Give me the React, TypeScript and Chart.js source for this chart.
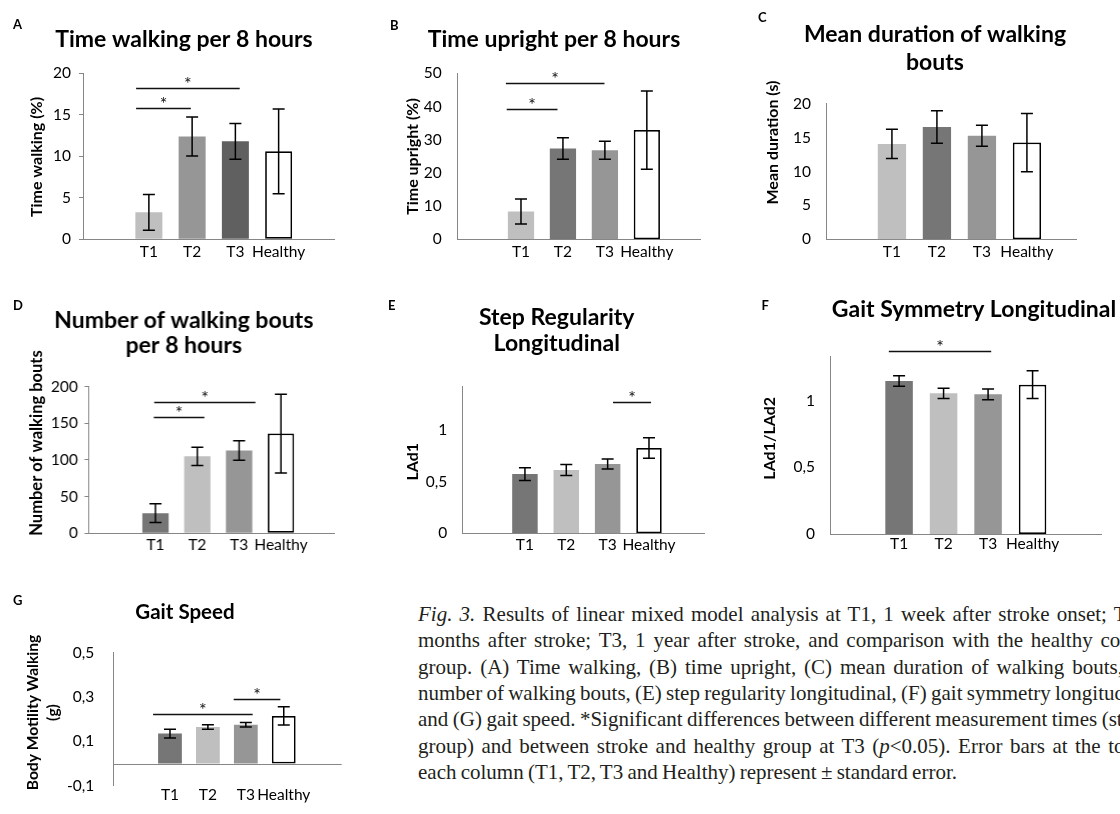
import React, { useEffect, useRef } from 'react';
import { Chart, registerables } from 'chart.js';

Chart.register(...registerables);

// ---------- data ----------
const categories = ['T1', 'T2', 'T3', 'Healthy'];

// A – time walking per 8 hours (%)
const walkMean = [3.25, 12.4, 11.8, 10.6];
const walkSE = [2.15, 2.35, 2.15, 5.1];
const walkTicks = [0, 5, 10, 15, 20];
const walkSig = [
  { from: 0.705, to: 3.1, y: 18.25 },
  { from: 0.705, to: 1.97, y: 15.85 },
];

// B – time upright per 8 hours (%)
const uprightMean = [8.38, 27.35, 26.8, 32.9];
const uprightSE = [3.77, 3.26, 2.7, 11.8];
const uprightTicks = [0, 10, 20, 30, 40, 50];
const uprightSig = [
  { from: 0.64, to: 2.99, y: 47 },
  { from: 0.66, to: 1.87, y: 39.3 },
];

// C – mean duration of walking bouts (s)
const durationMean = [14.1, 16.6, 15.3, 14.3];
const durationSE = [2.15, 2.4, 1.55, 4.3];
const durationTicks = [0, 5, 10, 15, 20];
const durationSig: { from: number; to: number; y: number }[] = [];

// D – number of walking bouts per 8 hours
const boutsMean = [27.5, 105, 113, 136];
const boutsSE = [12.7, 12.5, 13.4, 53.6];
const boutsTicks = [0, 50, 100, 150, 200];
const boutsSig = [
  { from: 0.97, to: 3.39, y: 179.5 },
  { from: 0.96, to: 2.17, y: 158.2 },
];

// E – step regularity longitudinal (LAd1)
const regMean = [0.574, 0.613, 0.671, 0.826];
const regSE = [0.062, 0.053, 0.048, 0.1];
const regTicks = [0, 0.5, 1];
const regSig = [{ from: 3.13, to: 4.05, y: 1.271 }];

// F – gait symmetry longitudinal (LAd1/LAd2)
const symMean = [1.1475, 1.055, 1.0475, 1.12];
const symSE = [0.04, 0.039, 0.04, 0.104];
const symTicks = [0, 0.5, 1];
const symSig = [{ from: 0.77, to: 3.07, y: 1.3725 }];

// G – gait speed (body motility walking, g)
const speedMean = [0.135, 0.165, 0.175, 0.215];
const speedSE = [0.02, 0.01, 0.01, 0.041];
const speedTicks = [-0.1, 0.1, 0.3, 0.5];
const speedSig = [
  { from: 0.555, to: 3.18, y: 0.224 },
  { from: 2.68, to: 3.91, y: 0.293 },
];

// ---------- styles / layout ----------
const FONT = "Lato, 'Open Sans', 'DejaVu Sans', sans-serif";
const AXIS = '#868686';
const LIGHT = '#BFBFBF';
const MID = '#969696';
const DARK = '#767676';
const DARKER = '#606060';
const WHITE = '#FFFFFF';
const TICK_SIZE = 15.5;
const STAR_SIZE = 18;

type Sig = { from: number; to: number; y: number };
type PanelSpec = {
  letter: string;
  letterPos: [number, number];
  title: string[];
  titleSize: number;
  titleLH: number;
  titleX: number;
  titleY: number;
  yTitle: string[];
  yTitleSize: number;
  yTitleX: number;
  yTitleY: number;
  yTitleLH: number;
  cx: number;
  cy: number;
  ch: number;
  L: number;
  T: number;
  R: number;
  B: number;
  c1: number;
  c4: number;
  barW: number;
  yMin: number;
  yMax: number;
  yTicks: number[];
  yTickLen: number;
  yTickPad: number;
  xLabelPad: number;
  zeroAxis?: boolean;
  means: number[];
  errs: number[];
  sig: Sig[];
  colors: string[];
};

const panels: PanelSpec[] = [
  {
    letter: 'A', letterPos: [13, 17.5],
    title: ['Time walking per 8 hours'], titleSize: 23, titleLH: 1.2, titleX: 184, titleY: 39.5,
    yTitle: ['Time walking (%)'], yTitleSize: 16, yTitleX: 37, yTitleY: 157, yTitleLH: 19,
    cx: 0, cy: 0, ch: 270, L: 83, T: 73.3, R: 334, B: 239.3,
    c1: 129, c4: 302, barW: 36,
    yMin: 0, yMax: 20, yTicks: walkTicks, yTickLen: 4, yTickPad: 8, xLabelPad: 3.5,
    means: walkMean, errs: walkSE, sig: walkSig, colors: [LIGHT, MID, DARKER, WHITE],
  },
  {
    letter: 'B', letterPos: [390, 19],
    title: ['Time upright per 8 hours'], titleSize: 23, titleLH: 1.2, titleX: 554, titleY: 39.5,
    yTitle: ['Time upright (%)'], yTitleSize: 16, yTitleX: 413.3, yTitleY: 156.5, yTitleLH: 19,
    cx: 370, cy: 0, ch: 270, L: 457.7, T: 73.3, R: 700, B: 239.3,
    c1: 501.7, c4: 669.5, barW: 35,
    yMin: 0, yMax: 50, yTicks: uprightTicks, yTickLen: 0, yTickPad: 16, xLabelPad: 3.5,
    means: uprightMean, errs: uprightSE, sig: uprightSig, colors: [LIGHT, DARK, MID, WHITE],
  },
  {
    letter: 'C', letterPos: [758, 10.5],
    title: ['Mean duration of walking', 'bouts'], titleSize: 23, titleLH: 1.2, titleX: 935, titleY: 35,
    yTitle: ['Mean duration (s)'], yTitleSize: 16, yTitleX: 773.3, yTitleY: 142.5, yTitleLH: 19,
    cx: 740, cy: 0, ch: 270, L: 826.7, T: 104, R: 1076.7, B: 239.3,
    c1: 872, c4: 1052, barW: 37.7,
    yMin: 0, yMax: 20, yTicks: durationTicks, yTickLen: 0, yTickPad: 15.7, xLabelPad: 3.5,
    means: durationMean, errs: durationSE, sig: durationSig, colors: [LIGHT, DARK, MID, WHITE],
  },
  {
    letter: 'D', letterPos: [13, 299],
    title: ['Number of walking bouts', 'per 8 hours'], titleSize: 23, titleLH: 1.07, titleX: 183.3, titleY: 321,
    yTitle: ['Number of walking bouts'], yTitleSize: 16.5, yTitleX: 36.7, yTitleY: 443, yTitleLH: 19,
    cx: 0, cy: 280, ch: 290, L: 88.3, T: 386.7, R: 333, B: 533.3,
    c1: 136.5, c4: 303.3, barW: 35,
    yMin: 0, yMax: 200, yTicks: boutsTicks, yTickLen: 4, yTickPad: 6.6, xLabelPad: 2.5,
    means: boutsMean, errs: boutsSE, sig: boutsSig, colors: [DARK, LIGHT, MID, WHITE],
  },
  {
    letter: 'E', letterPos: [388, 299],
    title: ['Step Regularity', 'Longitudinal'], titleSize: 23, titleLH: 1.12, titleX: 556.7, titleY: 318,
    yTitle: ['LAd1'], yTitleSize: 16, yTitleX: 412.7, yTitleY: 461.7, yTitleLH: 19,
    cx: 370, cy: 280, ch: 290, L: 462.7, T: 386.7, R: 705, B: 533.3,
    c1: 505.3, c4: 670.7, barW: 34,
    yMin: 0, yMax: 1.42, yTicks: regTicks, yTickLen: 0, yTickPad: 15.4, xLabelPad: 2.5,
    means: regMean, errs: regSE, sig: regSig, colors: [DARK, LIGHT, MID, WHITE],
  },
  {
    letter: 'F', letterPos: [761.5, 299],
    title: ['Gait Symmetry Longitudinal'], titleSize: 23, titleLH: 1.2, titleX: 974, titleY: 310,
    yTitle: ['LAd1/LAd2'], yTitleSize: 16, yTitleX: 770, yTitleY: 438.3, yTitleLH: 19,
    cx: 740, cy: 280, ch: 290, L: 830.7, T: 356.7, R: 1101.7, B: 534,
    c1: 876.7, c4: 1054.7, barW: 36.7,
    yMin: 0, yMax: 1.33, yTicks: symTicks, yTickLen: 0, yTickPad: 15.7, xLabelPad: 1,
    means: symMean, errs: symSE, sig: symSig, colors: [DARK, LIGHT, MID, WHITE],
  },
  {
    letter: 'G', letterPos: [13, 594],
    title: ['Gait Speed'], titleSize: 20.5, titleLH: 1.2, titleX: 185, titleY: 612,
    yTitle: ['Body Motility Walking', '(g)'], yTitleSize: 15.6, yTitleX: 33.3, yTitleY: 712.5, yTitleLH: 20,
    cx: 0, cy: 580, ch: 234, L: 113.3, T: 652.7, R: 341.7, B: 797.3,
    c1: 150.8, c4: 302.5, barW: 31.7,
    yMin: -0.1, yMax: 0.5, yTicks: speedTicks, yTickLen: 0, yTickPad: 19, xLabelPad: 0,
    zeroAxis: true,
    means: speedMean, errs: speedSE, sig: speedSig, colors: [DARK, LIGHT, MID, WHITE],
  },
];

const fmt = (v: number) => String(v).replace('.', ',');

// ---------- plugin: error bars, significance lines, y-axis titles ----------
const annotPlugin = {
  id: 'annot',
  afterDatasetsDraw(chart: any, _args: any, o: any) {
    const { ctx, chartArea: ca } = chart;
    const xs = chart.scales.x;
    const ys = chart.scales.y;
    ctx.save();
    if (o.zeroAxis) {
      const py = Math.round(ys.getPixelForValue(0)) + 0.5;
      ctx.strokeStyle = AXIS;
      ctx.lineWidth = 1;
      ctx.beginPath();
      ctx.moveTo(ca.left, py);
      ctx.lineTo(ca.right, py);
      ctx.stroke();
    }
    const meta = chart.getDatasetMeta(0);
    const data = chart.data.datasets[0].data;
    ctx.strokeStyle = '#000';
    ctx.lineWidth = 1.5;
    meta.data.forEach((bar: any, i: number) => {
      const v = data[i].y;
      const e = o.errs[i];
      const t = ys.getPixelForValue(v + e);
      const b = ys.getPixelForValue(v - e);
      const x = bar.x;
      const hw = 6;
      ctx.beginPath();
      ctx.moveTo(x, t);
      ctx.lineTo(x, b);
      ctx.moveTo(x - hw, t);
      ctx.lineTo(x + hw, t);
      ctx.moveTo(x - hw, b);
      ctx.lineTo(x + hw, b);
      ctx.stroke();
    });
    ctx.lineWidth = 1.3;
    ctx.strokeStyle = '#111';
    ctx.fillStyle = '#111';
    ctx.font = `${STAR_SIZE}px ${FONT}`;
    ctx.textAlign = 'center';
    ctx.textBaseline = 'alphabetic';
    o.sig.forEach((s: Sig) => {
      const x1 = xs.getPixelForValue(s.from);
      const x2 = xs.getPixelForValue(s.to);
      const y = Math.round(ys.getPixelForValue(s.y)) + 0.5;
      ctx.beginPath();
      ctx.moveTo(x1, y);
      ctx.lineTo(x2, y);
      ctx.stroke();
      ctx.fillText('*', (x1 + x2) / 2, y + 1);
    });
    ctx.font = `bold ${o.yTitleSize}px ${FONT}`;
    ctx.fillStyle = '#000';
    ctx.textBaseline = 'middle';
    ctx.translate(o.yTitleX, o.yTitleY);
    ctx.rotate(-Math.PI / 2);
    o.yTitle.forEach((line: string, k: number) => ctx.fillText(line, 0, k * o.yTitleLH));
    ctx.restore();
  },
};

function buildConfig(p: PanelSpec): any {
  const cw = 2 * (p.titleX - p.cx);
  const spacerW = p.cx + cw - p.R;
  const step = (p.c4 - p.c1) / 3;
  const xMin = 1 - (p.c1 - p.L) / step;
  const xMax = 4 + (p.R - p.c4) / step;
  const lh = p.titleSize * p.titleLH;
  const padT = p.titleY - p.cy - lh / 2;
  const titleBottom = padT + p.title.length * lh;
  const tpb = p.T - p.cy - titleBottom;

  return {
    type: 'bar',
    data: {
      datasets: [
        {
          data: categories.map((_c, i) => ({ x: i + 1, y: p.means[i] })),
          backgroundColor: p.colors,
          borderColor: '#000',
          borderWidth: p.colors.map((c) => (c === WHITE ? 1.75 : 0)),
          borderSkipped: false,
          categoryPercentage: 1,
          barPercentage: p.barW / step,
        },
      ],
    },
    options: {
      animation: false,
      responsive: true,
      maintainAspectRatio: false,
      layout: { padding: { top: padT, left: 0, right: 0, bottom: 0 } },
      plugins: {
        legend: { display: false },
        tooltip: { enabled: false },
        title: {
          display: true,
          text: p.title,
          color: '#000',
          font: { family: FONT, size: p.titleSize, weight: 'bold', lineHeight: p.titleLH },
          padding: { top: 0, bottom: tpb },
        },
        annot: {
          errs: p.errs,
          sig: p.sig,
          zeroAxis: !!p.zeroAxis,
          yTitle: p.yTitle,
          yTitleSize: p.yTitleSize,
          yTitleX: p.yTitleX - p.cx,
          yTitleY: p.yTitleY - p.cy,
          yTitleLH: p.yTitleLH,
        },
      },
      scales: {
        x: {
          type: 'linear',
          min: xMin,
          max: xMax,
          afterBuildTicks: (s: any) => {
            s.ticks = categories.map((_c, i) => ({ value: i + 1 }));
          },
          afterFit: (s: any) => {
            s.height = p.cy + p.ch - p.B;
          },
          ticks: {
            autoSkip: false,
            maxRotation: 0,
            minRotation: 0,
            padding: p.xLabelPad,
            color: '#000',
            font: { family: FONT, size: TICK_SIZE },
            callback: (v: number) => categories[Math.round(v) - 1] ?? '',
          },
          grid: { display: false, drawTicks: false, tickLength: 0 },
          border: { display: !p.zeroAxis, color: AXIS, width: 1 },
        },
        y: {
          type: 'linear',
          min: p.yMin,
          max: p.yMax,
          afterBuildTicks: (s: any) => {
            s.ticks = p.yTicks.map((v) => ({ value: v }));
          },
          afterFit: (s: any) => {
            s.width = p.L - p.cx;
          },
          ticks: {
            padding: p.yTickPad,
            color: '#000',
            font: { family: FONT, size: TICK_SIZE },
            callback: (v: number) => fmt(v),
          },
          grid: {
            display: p.yTickLen > 0,
            drawOnChartArea: false,
            drawTicks: p.yTickLen > 0,
            tickLength: p.yTickLen,
            color: AXIS,
          },
          border: { display: true, color: AXIS, width: 1 },
        },
        spacer: {
          type: 'linear',
          position: 'right',
          display: true,
          afterFit: (s: any) => {
            s.width = spacerW;
          },
          ticks: { display: false },
          grid: { display: false, drawTicks: false, tickLength: 0 },
          border: { display: false },
        },
      },
    },
    plugins: [annotPlugin],
  };
}

function Panel({ p }: { p: PanelSpec }) {
  const ref = useRef<HTMLCanvasElement>(null);
  useEffect(() => {
    const chart = new Chart(ref.current as HTMLCanvasElement, buildConfig(p));
    return () => chart.destroy();
  }, [p]);
  const cw = 2 * (p.titleX - p.cx);
  return (
    <>
      <div style={{ position: 'absolute', left: p.cx, top: p.cy, width: cw, height: p.ch }}>
        <canvas ref={ref} />
      </div>
      <span
        style={{
          position: 'absolute',
          left: p.letterPos[0],
          top: p.letterPos[1],
          fontFamily: FONT,
          fontWeight: 'bold',
          fontSize: 13,
          lineHeight: '13px',
          color: '#000',
        }}
      >
        {p.letter}
      </span>
    </>
  );
}

// ---------- caption ----------
const captionLines: React.ReactNode[] = [
  <>
    <i>Fig. 3.</i> Results of linear mixed model analysis at T1, 1 week after stroke onset; T2, 6
  </>,
  <>months after stroke; T3, 1 year after stroke, and comparison with the healthy control</>,
  <>group. (A) Time walking, (B) time upright, (C) mean duration of walking bouts, (D)</>,
  <>number of walking bouts, (E) step regularity longitudinal, (F) gait symmetry longitudinal,</>,
  <>and (G) gait speed. *Significant differences between different measurement times (stroke</>,
  <>
    group) and between stroke and healthy group at T3 (<i>p</i>&lt;0.05). Error bars at the top of
  </>,
  <>each column (T1, T2, T3 and Healthy) represent ± standard error.</>,
];

function Caption() {
  return (
    <>
      {captionLines.map((line, i) => {
        const last = i === captionLines.length - 1;
        return (
          <div
            key={i}
            style={{
              position: 'absolute',
              left: 418,
              top: 600.7 + i * 26.4,
              width: 742,
              whiteSpace: 'nowrap',
              textAlign: last ? 'left' : 'justify',
              textAlignLast: last ? 'left' : 'justify',
              fontFamily: "'Liberation Serif', 'Times New Roman', serif",
              fontSize: 21,
              wordSpacing: -1,
              lineHeight: '26.4px',
              color: '#231f20',
            } as React.CSSProperties}
          >
            {line}
          </div>
        );
      })}
    </>
  );
}

export default function App() {
  return (
    <div
      style={{
        position: 'absolute',
        left: 0,
        top: 0,
        width: 1120,
        height: 814,
        overflow: 'hidden',
        background: '#fff',
      }}
    >
      {panels.map((p) => (
        <Panel key={p.letter} p={p} />
      ))}
      <Caption />
    </div>
  );
}
